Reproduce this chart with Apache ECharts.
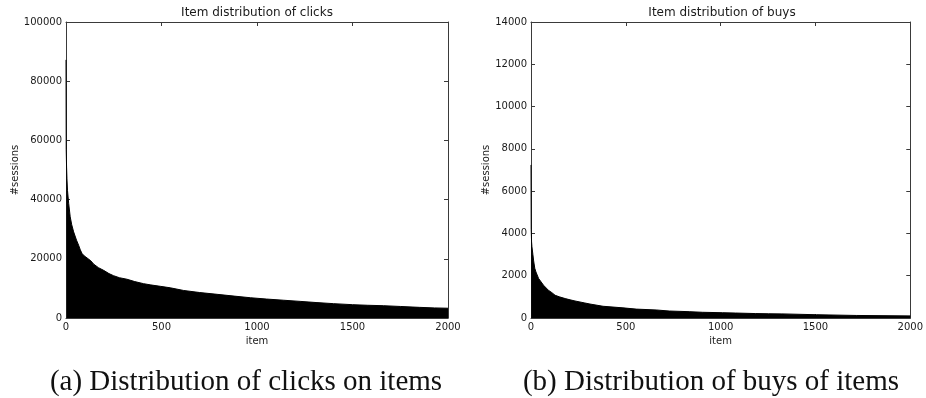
<!DOCTYPE html>
<html>
<head>
<meta charset="utf-8">
<script src="https://cdn.jsdelivr.net/npm/echarts@6/dist/echarts.min.js"></script>
<style>
  html, body { margin: 0; padding: 0; background: #ffffff; }
  #chart { width: 926px; height: 398px; }
</style>
</head>
<body>
<div id="chart"></div>
<script>
// Items ranked by popularity (rank, number of sessions)
const clickItems = [0, 1, 3, 5, 8, 14, 22, 30, 40, 55, 66, 75, 84, 95, 110, 130, 145, 170, 197, 225, 249, 280, 319, 360, 406, 441, 494, 546, 616, 700, 791, 880, 965, 1050, 1140, 1230, 1314, 1400, 1500, 1580, 1663, 1750, 1850, 1930, 2000];
const clickSessions = [87200, 57000, 51000, 47000, 43000, 38700, 34200, 31500, 29100, 26300, 24600, 23000, 21800, 21000, 20300, 19300, 18200, 17000, 16100, 15000, 14300, 13600, 13100, 12300, 11600, 11200, 10700, 10200, 9300, 8600, 8000, 7400, 6850, 6400, 6000, 5600, 5200, 4850, 4500, 4300, 4150, 3900, 3600, 3400, 3300];

const buyItems = [0, 1, 3, 5, 10, 14, 20, 26, 40, 49, 66, 75, 92, 110, 127, 150, 180, 206, 232, 284, 311, 380, 485, 555, 660, 729, 834, 904, 1009, 1079, 1183, 1253, 1323, 1324, 1506, 1507, 1715, 1716, 2000];
const buySessions = [7240, 4200, 3600, 3370, 3000, 2700, 2350, 2180, 1870, 1800, 1550, 1500, 1310, 1200, 1075, 1000, 920, 860, 805, 710, 660, 555, 480, 420, 380, 330, 300, 270, 250, 235, 210, 200, 195, 160, 155, 125, 120, 100, 100];

const itemMin = 0, itemMax = 2000, itemStep = 500;
const clickMax = 100000, clickStep = 20000;
const buyMax = 14000, buyStep = 2000;

const titles = ['Item distribution of clicks', 'Item distribution of buys'];
const captions = ['(a) Distribution of clicks on items', '(b) Distribution of buys of items'];

const sans = 'DejaVu Sans';
const frameColor = '#3a3a3a';
const textColor = '#1a1a1a';

const grids = [
  { left: 66, top: 22, width: 382, height: 296 },
  { left: 531, top: 22, width: 382, height: 296 }
];

function pairs(xs, ys) {
  return xs.map((x, i) => [x, ys[i]]);
}

const plainNumber = v => String(v);

function xAxisFor(gridIndex, pos) {
  const main = pos === 'bottom';
  return {
    type: 'value', gridIndex, position: pos,
    min: itemMin, max: itemMax, interval: itemStep,
    name: main ? 'item' : '', nameLocation: 'middle', nameGap: 17,
    nameTextStyle: { fontFamily: sans, fontSize: 10, color: textColor },
    axisLine: { show: true, onZero: false, lineStyle: { color: frameColor, width: 1 } },
    axisTick: { show: true, inside: true, length: 4, lineStyle: { color: frameColor } },
    axisLabel: { show: main, margin: 4, fontFamily: sans, fontSize: 10, color: textColor, formatter: plainNumber },
    splitLine: { show: false }
  };
}

function yAxisFor(gridIndex, pos, max, step, gap) {
  const main = pos === 'left';
  return {
    type: 'value', gridIndex, position: pos,
    min: 0, max, interval: step,
    name: main ? '#sessions' : '', nameLocation: 'middle', nameGap: gap,
    nameTextStyle: { fontFamily: sans, fontSize: 10, color: textColor },
    axisLine: { show: true, onZero: false, lineStyle: { color: frameColor, width: 1 } },
    axisTick: { show: true, inside: true, length: 4, lineStyle: { color: frameColor } },
    axisLabel: { show: main, margin: 4, fontFamily: sans, fontSize: 10, color: textColor, formatter: plainNumber },
    splitLine: { show: false }
  };
}

function areaSeries(xAxisIndex, yAxisIndex, data) {
  return {
    type: 'line', xAxisIndex, yAxisIndex, data,
    symbol: 'none', smooth: false, animation: false,
    lineStyle: { color: '#000000', width: 1 },
    areaStyle: { color: '#000000', opacity: 1 },
    silent: true
  };
}

const chart = echarts.init(document.getElementById('chart'), null, { renderer: 'canvas' });

const graphicTexts = [];
grids.forEach((g, i) => {
  graphicTexts.push({
    type: 'text', x: g.left + g.width / 2, y: 13,
    style: { text: titles[i], fontFamily: sans, fontSize: 12, fill: textColor, align: 'center', verticalAlign: 'middle' }
  });
});
const captionCenters = [246, 711];
captions.forEach((c, i) => {
  graphicTexts.push({
    type: 'text', x: captionCenters[i], y: 382,
    style: { text: c, fontFamily: 'Liberation Serif', fontSize: 29, fill: '#111111', align: 'center', verticalAlign: 'middle' }
  });
});

chart.setOption({
  animation: false,
  backgroundColor: '#ffffff',
  grid: grids,
  xAxis: [
    xAxisFor(0, 'bottom'), xAxisFor(0, 'top'),
    xAxisFor(1, 'bottom'), xAxisFor(1, 'top')
  ],
  yAxis: [
    yAxisFor(0, 'left', clickMax, clickStep, 44), yAxisFor(0, 'right', clickMax, clickStep, 0),
    yAxisFor(1, 'left', buyMax, buyStep, 38), yAxisFor(1, 'right', buyMax, buyStep, 0)
  ],
  series: [
    areaSeries(0, 0, pairs(clickItems, clickSessions)),
    areaSeries(2, 2, pairs(buyItems, buySessions))
  ],
  graphic: graphicTexts
});
</script>
</body>
</html>
